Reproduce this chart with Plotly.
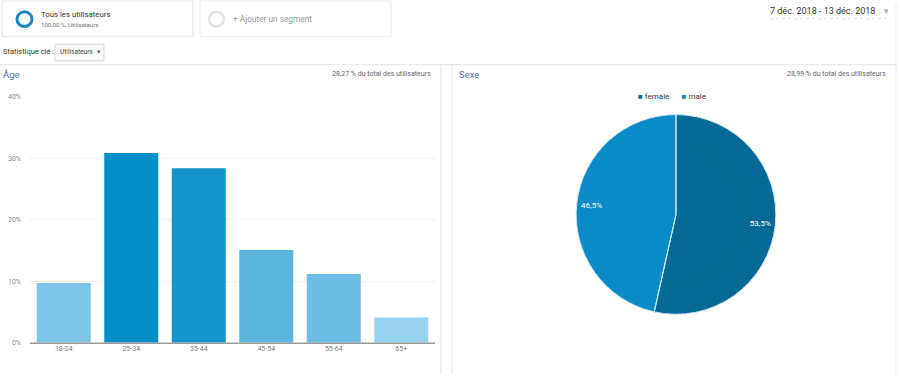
import plotly.graph_objects as go

# ---- data ----
age_groups = ["18-24", "25-34", "35-44", "45-54", "55-64", "65+"]
age_values = [9.7, 30.9, 28.4, 15.1, 11.2, 4.1]
age_colors = ["#7cc5e7", "#058dc7", "#1595ce", "#5ab5dd", "#6cbfe3", "#97d3ef"]
y_tickvals = [0, 10, 20, 30, 40]
y_ticktext = ["0%", "10%", "20%", "30%", "40%"]

sex_labels = ["female", "male"]
sex_values = [53.5, 46.5]
sex_text = ["53,5%", "46,5%"]
sex_colors = ["#076a96", "#0a8bc7"]

W, H = 900, 378
def px(x): return x / W
def py(y): return 1 - y / H

FONT = "Roboto, Arial, sans-serif"

fig = go.Figure()

fig.add_trace(go.Bar(
    x=age_groups, y=age_values, marker=dict(color=age_colors, line=dict(width=0)),
    width=0.8, xaxis="x", yaxis="y", showlegend=False, hoverinfo="x+y"))

pie_domain = dict(x=[px(574), px(778)], y=[py(317), py(113)])
common = dict(labels=sex_labels, values=sex_values, sort=False, direction="clockwise",
              rotation=0, domain=pie_domain, showlegend=False)
# 1) full coloured pie
fig.add_trace(go.Pie(**common, marker=dict(colors=sex_colors, line=dict(width=0)),
                     textinfo="none", hoverinfo="skip"))
# 2) ring carrying the percentage labels near the rim
fig.add_trace(go.Pie(**common, hole=0.7, marker=dict(colors=sex_colors, line=dict(width=0)),
                     texttemplate="%{customdata}", customdata=sex_text,
                     textposition="inside", insidetextorientation="horizontal",
                     textfont=dict(color="white", size=8, family=FONT), hoverinfo="skip"))
# 3) transparent pie drawing only the slice separators
fig.add_trace(go.Pie(**common,
                     marker=dict(colors=["rgba(0,0,0,0)"] * len(sex_labels),
                                 line=dict(color="#d4e9f5", width=1)),
                     textinfo="none", hoverinfo="label+percent"))

fig.update_layout(
    width=W, height=H, margin=dict(l=0, r=0, t=0, b=0),
    paper_bgcolor="white", plot_bgcolor="white",
    font=dict(family=FONT, color="#666"),
    bargap=0.2, showlegend=False,
    xaxis=dict(domain=[px(30), px(435)], showgrid=False, zeroline=False, showline=False,
               tickfont=dict(size=7, color="#777"), ticks="", fixedrange=True),
    yaxis=dict(domain=[py(346), py(95)], range=[0, 40], tickvals=y_tickvals, ticktext=y_ticktext,
               showgrid=True, gridcolor="#efefef", gridwidth=1, zeroline=False, showline=False,
               tickfont=dict(size=7, color="#888"), ticks="", ticklabelstandoff=8),
)

shapes = []
shapes.append(dict(type="line", xref="paper", yref="paper", x0=px(30), x1=px(435),
                   y0=py(346.5), y1=py(346.5), line=dict(color="#9a9a9a", width=1.5)))
shapes.append(dict(type="line", xref="paper", yref="paper", x0=0, x1=px(897),
                   y0=py(62), y1=py(62), line=dict(color="#e4e4e4", width=1)))
for xv in (441, 452):
    shapes.append(dict(type="line", xref="paper", yref="paper", x0=px(xv), x1=px(xv),
                       y0=0, y1=py(62), line=dict(color="#e6e6e6", width=1)))
shapes.append(dict(type="line", xref="paper", yref="paper", x0=px(896), x1=px(896),
                   y0=0, y1=1, line=dict(color="#ececec", width=1)))
shapes.append(dict(type="rect", xref="paper", yref="paper", x0=px(2), x1=px(193),
                   y0=py(33), y1=py(-3), line=dict(color="#e3e3e3", width=1), fillcolor="white"))
shapes.append(dict(type="rect", xref="paper", yref="paper", x0=px(200), x1=px(391),
                   y0=py(33), y1=py(-3), line=dict(color="#e8e8e8", width=1), fillcolor="white"))
shapes.append(dict(type="circle", xref="paper", yref="paper", x0=px(17), x1=px(32),
                   y0=py(23), y1=py(8), line=dict(color="#1a86c2", width=3)))
shapes.append(dict(type="circle", xref="paper", yref="paper", x0=px(209), x1=px(224),
                   y0=py(23), y1=py(8), line=dict(color="#e3e3e3", width=2.5)))
shapes.append(dict(type="rect", xref="paper", yref="paper", x0=px(55), x1=px(104),
                   y0=py(58), y1=py(41), line=dict(color="#d6d6d6", width=1), fillcolor="#fbfbfb"))
shapes.append(dict(type="line", xref="paper", yref="paper", x0=px(770), x1=px(889),
                   y0=py(15), y1=py(15), line=dict(color="#e2e2e2", width=1, dash="dot")))
fig.update_layout(shapes=shapes)

def ann(x, y, text, size, color="#666", xanchor="left", yanchor="middle"):
    return dict(x=px(x), y=py(y), xref="paper", yref="paper", text=text, showarrow=False,
                xanchor=xanchor, yanchor=yanchor, font=dict(size=size, color=color, family=FONT))

legend_text = "\u2003\u2002".join(
    f'<span style="color:{c}">■</span> {lab}' for lab, c in zip(sex_labels, sex_colors))

annotations = [
    ann(39, 11, "Tous les utilisateurs", 7.8, "#333"),
    ann(39, 21, "100,00 %, Utilisateurs", 6.1, "#777"),
    ann(231, 15, "+ Ajouter un segment", 8.3, "#999"),
    ann(1, 49, "Statistique clé :", 7.5, "#333"),
    ann(58, 49, "Utilisateurs", 6.5, "#444"),
    ann(95, 49, "▾", 7, "#666"),
    ann(877, 7, "7 déc. 2018 - 13 déc. 2018", 9, "#333", xanchor="right"),
    ann(886, 7, "▾", 9, "#aaa", xanchor="center"),
    ann(1, 72, "Âge", 9.5, "#4f6fa8"),
    ann(433, 72, "28,27 % du total des utilisateurs", 7, "#666", xanchor="right"),
    ann(457, 72, "Sexe", 9.5, "#4f6fa8"),
    ann(888, 72, "28,99 % du total des utilisateurs", 7, "#666", xanchor="right"),
    ann(672, 95, legend_text, 8, "#333", xanchor="center"),
]
fig.update_layout(annotations=annotations)

fig.write_html("out.html", config={"displayModeBar": False},
               post_script="document.body.style.margin='0';document.body.style.overflow='hidden';")
